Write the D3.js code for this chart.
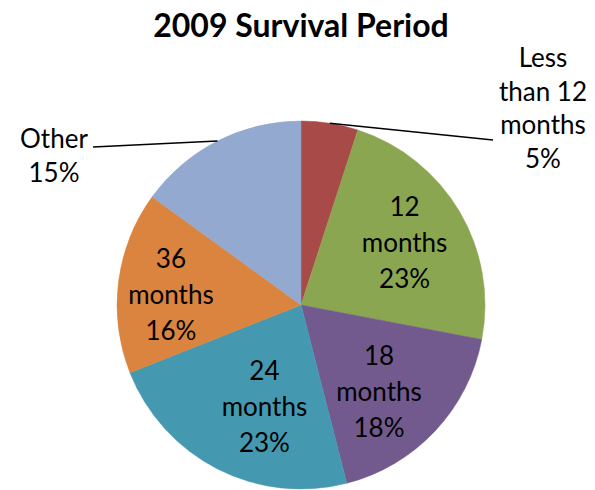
<!DOCTYPE html>
<html>
<head>
<meta charset="utf-8">
<script src="https://cdn.jsdelivr.net/npm/d3@7"></script>
<style>
  body { margin: 0; background: #fff; }
  svg { display: block; }
  text { font-family: Lato, "Open Sans", sans-serif; fill: #000; }
</style>
</head>
<body>
<svg width="595" height="490"></svg>
<script>
// data (clockwise from 12 o'clock)
const categories = ['Less than 12 months', '12 months', '18 months', '24 months', '36 months', 'Other'];
const shares = [5, 23, 18, 23, 16, 15];
const labelLines = [
  ['Less', 'than 12', 'months', '5%'],
  ['12', 'months', '23%'],
  ['18', 'months', '18%'],
  ['24', 'months', '23%'],
  ['36', 'months', '16%'],
  ['Other', '15%']
];
const colors = ['#A84A48', '#8BA650', '#735A8E', '#4499B0', '#DA843F', '#93A9CF'];

const cx = 301, cy = 305, radius = 184;
const lineH = 36;

const svg = d3.select('svg');

svg.append('text')
  .attr('x', 301)
  .attr('y', 37)
  .attr('text-anchor', 'middle')
  .style('font-weight', 'bold')
  .style('font-size', '32px')
  .text('2009 Survival Period');

const pie = d3.pie().sort(null).value(d => d);
const arcs = pie(shares);

const arc = d3.arc().innerRadius(0).outerRadius(radius);
const labelArc = d3.arc().innerRadius(118).outerRadius(118);

const g = svg.append('g').attr('transform', `translate(${cx},${cy})`);

g.selectAll('path')
  .data(arcs)
  .enter()
  .append('path')
  .attr('d', arc)
  .attr('fill', (d, i) => colors[i])
  .attr('stroke', (d, i) => colors[i])
  .attr('stroke-width', 0.5);

// inside labels, nudged a little like Excel places them
const nudge = {1: [2, -2], 2: [-8, 6], 3: [17, -3], 4: [-13, 5]};
Object.keys(nudge).forEach(key => {
  const i = +key;
  const [x0, y0] = labelArc.centroid(arcs[i]);
  const x = x0 + nudge[i][0], y = y0 + nudge[i][1];
  const lines = labelLines[i];
  const t = g.append('text')
    .attr('text-anchor', 'middle')
    .style('font-size', '26px');
  lines.forEach((s, k) => {
    t.append('tspan')
      .attr('x', x)
      .attr('y', y + 9 + (k - (lines.length - 1) / 2) * lineH)
      .text(s);
  });
});

// outside labels with leader lines (label anchor in page coords)
const outside = [
  {i: 0, x: 543, y: 67, lineStart: [493, 140]},
  {i: 5, x: 54, y: 148, lineStart: [93, 147]}
];
outside.forEach(o => {
  const a = arcs[o.i];
  const mid = (a.startAngle + a.endAngle) / 2;
  const edge = d3.pointRadial(mid, radius);
  svg.append('line')
    .attr('x1', o.lineStart[0]).attr('y1', o.lineStart[1])
    .attr('x2', cx + edge[0]).attr('y2', cy + edge[1])
    .attr('stroke', '#000')
    .attr('stroke-width', 1.5);
  const t = svg.append('text')
    .attr('text-anchor', 'middle')
    .style('font-size', '26px');
  labelLines[o.i].forEach((s, k) => {
    t.append('tspan')
      .attr('x', o.x)
      .attr('y', o.y + k * (o.i === 0 ? 33.7 : 34))
      .text(s);
  });
});
</script>
</body>
</html>
